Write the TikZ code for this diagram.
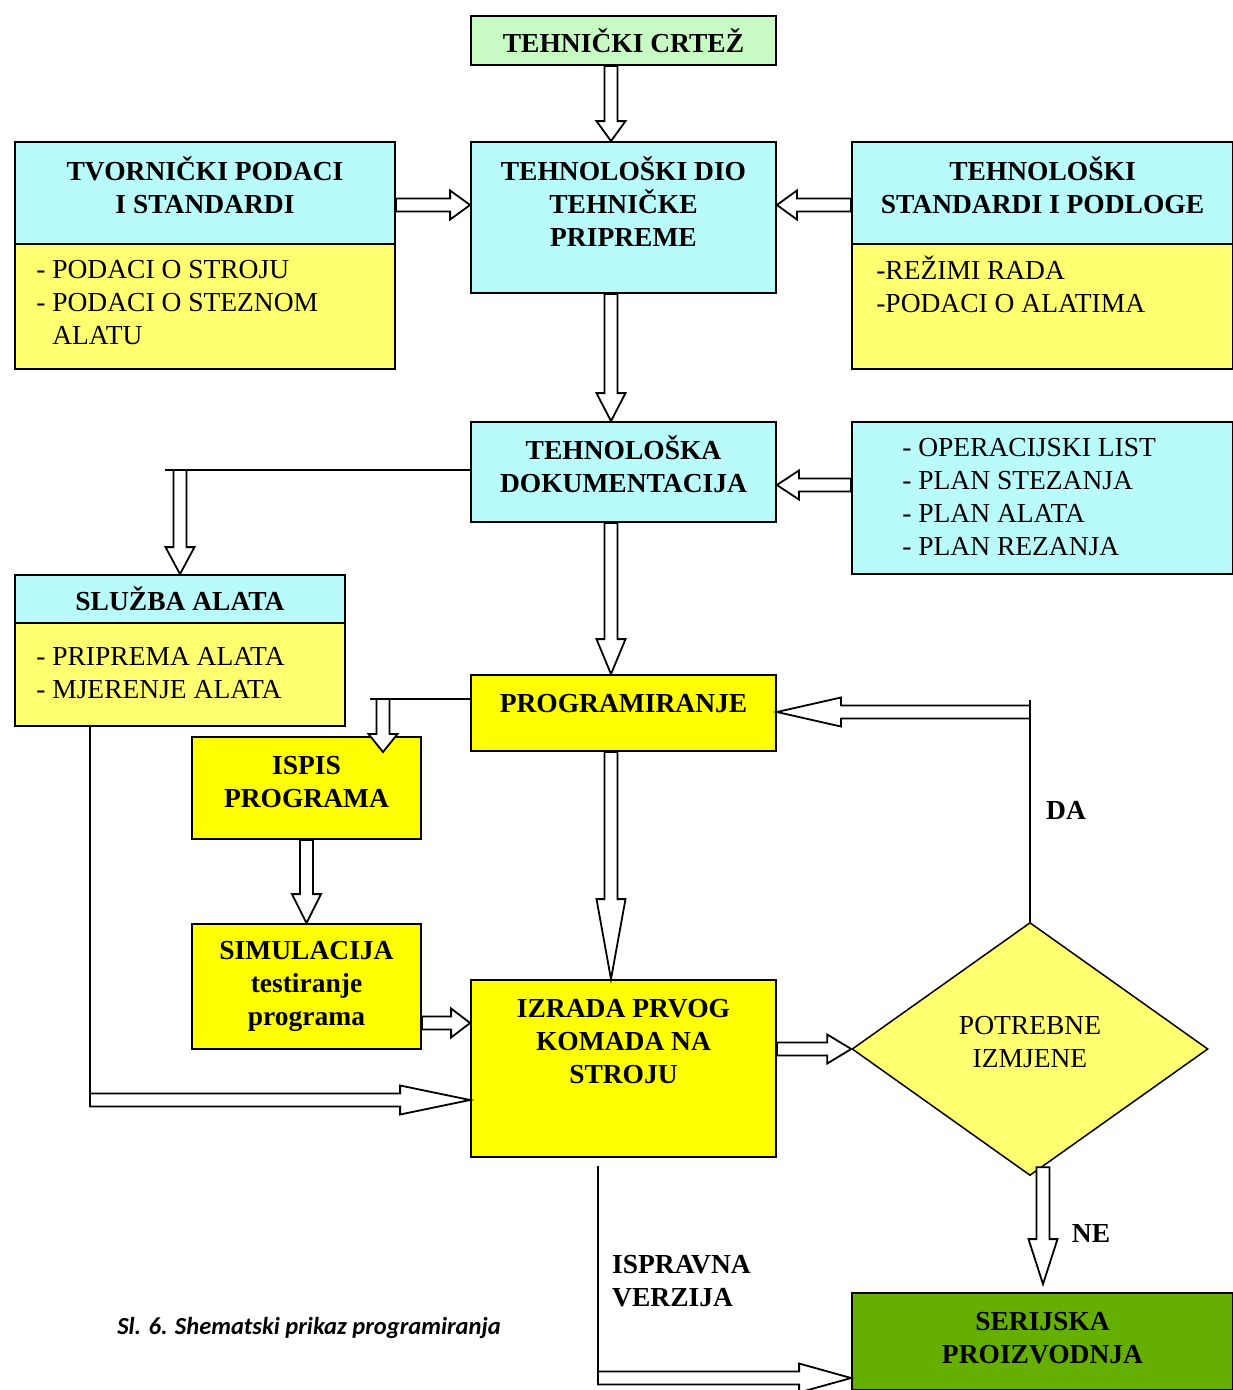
\documentclass[tikz,border=0pt]{standalone}
\usepackage{fontspec}
\setmainfont{Liberation Serif}
\newfontfamily\capfont{Carlito}
\usepackage{tikz}
\usetikzlibrary{calc}
\usetikzlibrary{positioning}
\usetikzlibrary{shapes.geometric}
\definecolor{cyanlt}{RGB}{185,250,250}
\definecolor{greenlt}{RGB}{200,250,195}
\definecolor{yellowlt}{RGB}{255,255,112}
\definecolor{yellowbr}{RGB}{255,255,0}
\definecolor{greendk}{RGB}{100,175,0}
\newcommand{\boxfont}{\fontsize{27.5}{33}\selectfont\bfseries}
\newcommand{\listfont}{\fontsize{27.5}{33}\selectfont}
\tikzset{box/.style = {draw, line width=1.8pt, inner sep=0pt, align=center, font=\boxfont},
         txt/.style = {inner sep=0pt, align=center, font=\boxfont},
         list/.style = {inner sep=0pt, align=left, font=\listfont},
         odluka/.style = {diamond, draw, line width=1.5pt, fill=yellowlt, inner sep=0pt,
                          align=center, font=\listfont},
         conn/.style = {line width=1.8pt},
         hollow/.style = {draw, fill=white, line width=1.8pt, line join=miter}}
% [head length]{from}{to}
\newcommand{\fatarrow}[3][20]{%
  \coordinate (fa-h) at ($(#3)!#1pt!(#2)$);
  \draw[hollow] ($(#2)!6.5pt!90:(#3)$) -- ($(fa-h)!6.5pt!-90:(#2)$)
    -- ($(fa-h)!14.5pt!-90:(#2)$) -- (#3) -- ($(fa-h)!14.5pt!90:(#2)$)
    -- ($(fa-h)!6.5pt!90:(#2)$) -- ($(#2)!6.5pt!-90:(#3)$) -- cycle;
}

\begin{document}
\begin{tikzpicture}[x=1pt, y=-1pt]
    \useasboundingbox (0,0) rectangle (1233,1390);

    \node[box, fill=greenlt, minimum width=305, minimum height=49] (crtez) at (623.5,40.5) {TEHNIČKI CRTEŽ};
    \node[box, fill=cyanlt, minimum width=305, minimum height=151] (dio) at (623.5,217.5) {};
    \node[txt, below=15pt of dio.north] (dio-t) {TEHNOLOŠKI DIO\\TEHNIČKE\\PRIPREME};

    \node[box, fill=cyanlt, minimum width=380, minimum height=102, text depth=16pt] (tvh) at (205,193) {TVORNIČKI PODACI\\I STANDARDI};
    \node[box, fill=yellowlt, minimum width=380, minimum height=125] (tvb) at (205,306.5) {};
    \node[list, below right=17pt and 22pt of tvb.north west] (tvb-t) {- PODACI O STROJU\\- PODACI O STEZNOM\\\hphantom{- }ALATU};

    \node[box, fill=cyanlt, minimum width=381, minimum height=102, text depth=16pt] (stdh) at (1042.5,193) {TEHNOLOŠKI\\STANDARDI I PODLOGE};
    \node[box, fill=yellowlt, minimum width=381, minimum height=125] (stdb) at (1042.5,306.5) {};
    \node[list, below right=13pt and 25pt of stdb.north west] (stdb-t) {-REŽIMI RADA\\-PODACI O ALATIMA};

    \node[box, fill=cyanlt, minimum width=305, minimum height=100, text depth=15pt] (dok) at (623.5,472) {TEHNOLOŠKA\\DOKUMENTACIJA};
    \node[box, fill=cyanlt, minimum width=381, minimum height=152] (plan) at (1042.5,498) {};
    \node[list, below right=17pt and 51pt of plan.north west] (plan-t) {- OPERACIJSKI LIST\\- PLAN STEZANJA\\- PLAN ALATA\\- PLAN REZANJA};

    \node[box, fill=cyanlt, minimum width=330, minimum height=48] (slh) at (180,599) {SLUŽBA ALATA};
    \node[box, fill=yellowlt, minimum width=330, minimum height=103] (slb) at (180,674.5) {};
    \node[list, below right=25pt and 22pt of slb.north west] (slb-t) {- PRIPREMA ALATA\\- MJERENJE ALATA};

    \node[box, fill=yellowbr, minimum width=305, minimum height=76] (prog) at (623.5,713) {};
    \node[txt, below=20pt of prog.north] (prog-t) {PROGRAMIRANJE};
    \node[box, fill=yellowbr, minimum width=229, minimum height=102, text depth=12pt] (ispis) at (306.5,788) {ISPIS\\PROGRAMA};
    \node[box, fill=yellowbr, minimum width=229, minimum height=125] (simul) at (306.5,986.5) {SIMULACIJA\\testiranje\\programa};
    \node[box, fill=yellowbr, minimum width=305, minimum height=177] (izrada) at (623.5,1068.5) {};
    \node[txt, below=20pt of izrada.north] (izrada-t) {IZRADA PRVOG\\KOMADA NA\\STROJU};
    \node[odluka, minimum width=356, minimum height=253, text depth=14pt] (pot) at (1030,1049) {POTREBNE\\IZMJENE};
    \node[box, fill=greendk, minimum width=381, minimum height=97, text depth=8pt] (ser) at (1042.5,1341.5) {SERIJSKA\\PROIZVODNJA};

    \node[txt] (da) at (1066,810) {DA};
    \node[txt] (ne) at (1091,1233) {NE};
    \node[txt, anchor=west, align=left] (ispravna) at (612,1281) {ISPRAVNA\\VERZIJA};
    \node[inner sep=0pt, font={\capfont\bfseries\itshape\fontsize{24.5}{29}\selectfont}] (slika) at (309,1328) {Sl. 6. Shematski prikaz programiranja};

    % connectors
    \coordinate (trunk) at (611,0);
    \fatarrow[20]{crtez.south -| trunk}{dio.north -| trunk}
    \coordinate (tv-out) at ($(tvh.east)+(0,12)$);
    \coordinate (tv-in) at (dio.west |- tv-out);
    \fatarrow[20]{tv-out}{tv-in}
    \coordinate (st-out) at (stdh.west |- tv-out);
    \coordinate (st-in) at (dio.east |- tv-out);
    \fatarrow[20]{st-out}{st-in}
    \fatarrow[28]{dio.south -| trunk}{dok.north -| trunk}
    \coordinate (pl-out) at ($(plan.west)+(0,-13)$);
    \coordinate (pl-in) at (dok.east |- pl-out);
    \fatarrow[22]{pl-out}{pl-in}

    \coordinate (dk-end) at (165,470);
    \draw[conn] (dok.west |- dk-end) -- (dk-end);
    \coordinate (sl-fork) at (slh.north |- dk-end);
    \fatarrow[27]{sl-fork}{slh.north}
    \fatarrow[35]{dok.south -| trunk}{prog.north -| trunk}

    \coordinate (pr-end) at (370,699);
    \draw[conn] (prog.west |- pr-end) -- (pr-end);
    \coordinate (is-fork) at (383,699);
    \coordinate (is-tip) at (383,752);
    \fatarrow[18]{is-fork}{is-tip}
    \fatarrow[29]{ispis.south}{simul.north}
    \coordinate (si-out) at ($(simul.east)+(0,36.5)$);
    \coordinate (si-in) at (izrada.west |- si-out);
    \fatarrow[19]{si-out}{si-in}
    \fatarrow[80]{prog.south -| trunk}{izrada.north -| trunk}

    \coordinate (sb-corner) at (90,1100);
    \draw[conn] (slb.south -| sb-corner) -- (sb-corner);
    \coordinate (sb-in) at (izrada.west |- sb-corner);
    \fatarrow[70]{sb-corner}{sb-in}
    \coordinate (iz-out) at (izrada.east |- pot.west);
    \fatarrow[24]{iz-out}{pot.west}

    \coordinate (da-top) at (1030,700);
    \draw[conn] (pot.north) -- (da-top);
    \coordinate (da-fork) at (1030,712);
    \coordinate (da-in) at (prog.east |- da-fork);
    \fatarrow[64]{da-fork}{da-in}
    \coordinate (ne-out) at ($(pot.south)+(13,-9)$);
    \coordinate (ne-in) at ($(ser.north)+(0.5,-8)$);
    \fatarrow[45]{ne-out}{ne-in}

    \coordinate (ok-start) at ($(izrada.south)+(-25.5,8)$);
    \coordinate (ok-corner) at (598,1378);
    \draw[conn] (ok-start) -- (ok-corner);
    \coordinate (ok-in) at (ser.west |- ok-corner);
    \fatarrow[52]{ok-corner}{ok-in}
\end{tikzpicture}
\end{document}
